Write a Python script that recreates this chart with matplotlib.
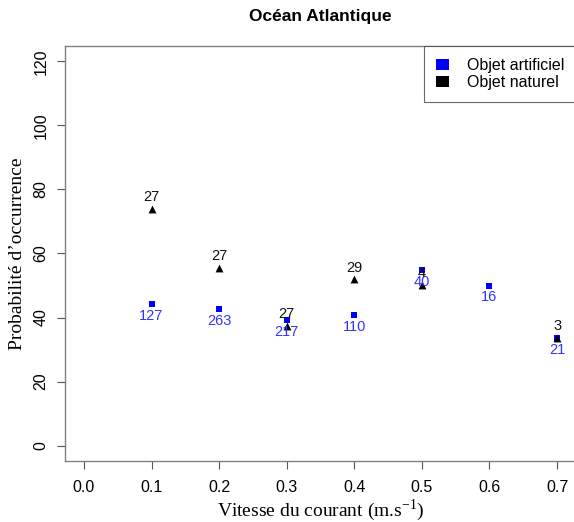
import matplotlib
matplotlib.use("Agg")
import matplotlib.pyplot as plt
from matplotlib.patches import Patch

# Data
x_art = [0.1, 0.2, 0.3, 0.4, 0.5, 0.6, 0.7]
y_art = [44.1, 42.7, 39.1, 40.9, 54.9, 50.0, 33.5]
n_art = ["127", "263", "217", "110", "40", "16", "21"]

x_nat = [0.1, 0.2, 0.3, 0.4, 0.5, 0.7]
y_nat = [74.0, 55.5, 37.3, 51.9, 50.2, 33.5]
n_nat = ["27", "27", "27", "29", "4", "3"]

x_ticks = [0.0, 0.1, 0.2, 0.3, 0.4, 0.5, 0.6, 0.7]
y_ticks = [0, 20, 40, 60, 80, 100, 120]

SANS = "Liberation Sans"
SERIF = "Liberation Serif"

fig = plt.figure(figsize=(5.74, 5.22), dpi=100)
W, H = 574, 522
L, R, T, B = 65, 576, 46, 461
ax = fig.add_axes([L / W, 1 - B / H, (R - L) / W, (B - T) / H])

ax.scatter(x_art, y_art, marker="s", s=24, color="#0000ff", zorder=3, linewidths=0)
ax.scatter(x_nat, y_nat, marker="^", s=32, color="black", zorder=3, linewidths=0)

for x, y, t in zip(x_art, y_art, n_art):
    ax.annotate(t, (x, y), xytext=(0, -3.5), textcoords="offset points",
                ha="center", va="top", fontsize=10.5, color="#3333ff", family=SANS)
for x, y, t in zip(x_nat, y_nat, n_nat):
    ax.annotate(t, (x, y), xytext=(0, 3.5), textcoords="offset points",
                ha="center", va="bottom", fontsize=10.5, color="#111111", family=SANS)

ax.set_xlim(-0.028, 0.728)
ax.set_ylim(-4.8, 124.8)
ax.set_xticks(x_ticks)
ax.set_xticklabels([f"{v:.1f}" for v in x_ticks], family=SANS, fontsize=11.5)
ax.set_yticks(y_ticks)
ax.set_yticklabels([str(v) for v in y_ticks], family=SANS, fontsize=11.5,
                   rotation=90, va="center")
ax.tick_params(axis="both", colors="#555555", labelcolor="black", length=6, width=0.8)
ax.tick_params(axis="x", pad=8)
ax.tick_params(axis="y", pad=6)
for sp in ax.spines.values():
    sp.set_color("#808080")
    sp.set_linewidth(1.0)

ax.set_title("Océan Atlantique", family=SANS, fontsize=12.5, fontweight="bold", pad=18)
ax.set_xlabel("Vitesse du courant (m.s$^{\\mathregular{-1}}$)", family=SERIF, fontsize=14, labelpad=1)
ax.set_ylabel("Probabilité d’occurrence", family=SERIF, fontsize=14, labelpad=5)

handles = [Patch(facecolor="#0000ff", edgecolor="none", label="Objet artificiel"),
           Patch(facecolor="black", edgecolor="none", label="Objet naturel")]
leg = ax.legend(handles=handles, loc="upper right", bbox_to_anchor=(1.0, 1.0),
                prop={"family": SANS, "size": 11.5}, frameon=True, fancybox=False,
                borderaxespad=0, handlelength=0.8, handleheight=0.7,
                handletextpad=1.1, labelspacing=0.15, borderpad=0.75)
leg.get_frame().set_edgecolor("#444444")
leg.get_frame().set_linewidth(0.8)

fig.savefig("out.png", dpi=100)
